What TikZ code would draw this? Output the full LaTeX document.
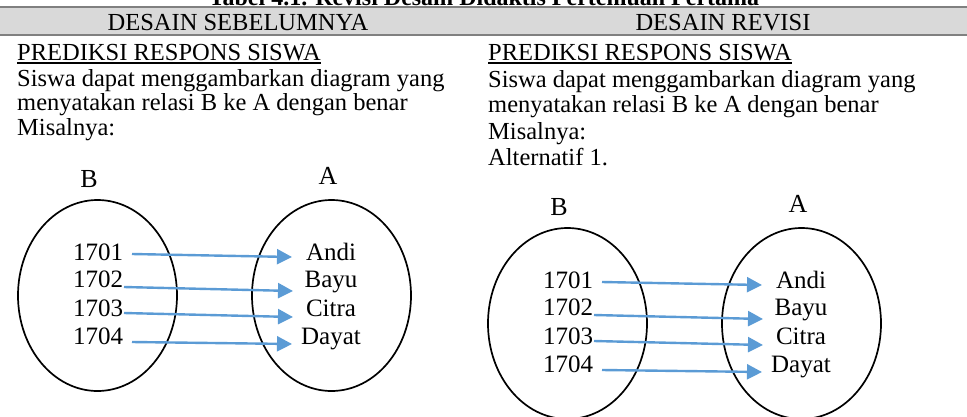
\documentclass[tikz,border=0pt]{standalone}
\usepackage{fontspec}
\setmainfont{Liberation Serif}
\usetikzlibrary{arrows.meta,shapes.geometric}
\definecolor{hdrfill}{HTML}{D9D9D9}
\definecolor{hdrline}{HTML}{808080}
\definecolor{arrowblue}{HTML}{5B9BD5}
\newcommand\RelDiagram[1]{%
  \node[setoval] (#1B) at (97.5,295.5) {};
  \node[setoval] (#1A) at (331.5,295.5) {};
  \node[setlabel] (#1lb) at (89,187) {B};
  \node[setlabel] (#1la) at (328,184) {A};
  \node[item] (#1n1) at (98,260) {1701};
  \node[item] (#1n2) at (98,287) {1702};
  \node[item] (#1n3) at (98,316) {1703};
  \node[item] (#1n4) at (98,344) {1704};
  \node[item] (#1m1) at (331,260) {Andi};
  \node[item] (#1m2) at (331,287) {Bayu};
  \node[item] (#1m3) at (331,316) {Citra};
  \node[item] (#1m4) at (331,344) {Dayat};
  \draw[maparrow] ([shift={(34,-6)}]#1n1.base) -- ([shift={(-39,-3)}]#1m1.base);
  \draw[maparrow] ([shift={(26,0)}]#1n2.base) -- ([shift={(-38,4)}]#1m2.base);
  \draw[maparrow] ([shift={(26,-3)}]#1n3.base) -- ([shift={(-38,1)}]#1m3.base);
  \draw[maparrow] ([shift={(34,-2)}]#1n4.base) -- ([shift={(-39,0)}]#1m4.base);
}
\begin{document}
\begin{tikzpicture}[x=1pt,y=-1pt,
  txt/.style={anchor=base west, inner sep=0pt, font=\fontsize{24.5}{25}\selectfont},
  hdr/.style={anchor=base, inner sep=0pt, font=\fontsize{24.5}{25}\selectfont},
  capt/.style={anchor=base, inner sep=0pt, font=\fontsize{24}{25}\selectfont\bfseries},
  setoval/.style={draw, line width=1.7pt, ellipse, minimum width=159pt, minimum height=191pt, inner sep=0pt},
  setlabel/.style={anchor=base, inner sep=0pt, font=\fontsize{26}{26}\selectfont},
  item/.style={anchor=base, inner sep=0pt, font=\fontsize{25}{25}\selectfont},
  maparrow/.style={draw=arrowblue, line width=2.4pt, -{Triangle[length=15pt,width=15pt]}},
  uline/.style={line width=1.8pt}]
\useasboundingbox (0,0) rectangle (967,416);
% caption (cut off at top)
\node[capt] (cap) at (484,5) {Tabel 4.1. Revisi Desain Didaktis Pertemuan Pertama};
% header band
\fill[hdrfill] (0,7) rectangle (967,34.5);
\draw[hdrline, line width=1.4pt] (0,7) -- (967,7);
\draw[hdrline, line width=2pt] (0,34.5) -- (967,34.5);
\node[hdr] (h1) at (238,30) {DESAIN SEBELUMNYA};
\node[hdr] (h2) at (723,30) {DESAIN REVISI};
% left column
\node[txt] (l1) at (17,60) {PREDIKSI RESPONS SISWA};
\draw[uline] ([yshift=-3pt]l1.base west) -- ([yshift=-3pt]l1.base east);
\node[txt] (l2) at (17,86) {Siswa dapat menggambarkan diagram yang};
\node[txt] (l3) at (17,110) {menyatakan relasi B ke A dengan benar};
\node[txt] (l4) at (17,135) {Misalnya:};
% right column
\node[txt] (r1) at (488,60) {PREDIKSI RESPONS SISWA};
\draw[uline] ([yshift=-3pt]r1.base west) -- ([yshift=-3pt]r1.base east);
\node[txt] (r2) at (488,87) {Siswa dapat menggambarkan diagram yang};
\node[txt] (r3) at (488,112) {menyatakan relasi B ke A dengan benar};
\node[txt] (r4) at (488,139) {Misalnya:};
\node[txt] (r5) at (488,165) {Alternatif 1.};
% diagrams
\begin{scope}
\RelDiagram{L}
\end{scope}
\begin{scope}[shift={(470,28)}]
\RelDiagram{R}
\end{scope}
\end{tikzpicture}
\end{document}
